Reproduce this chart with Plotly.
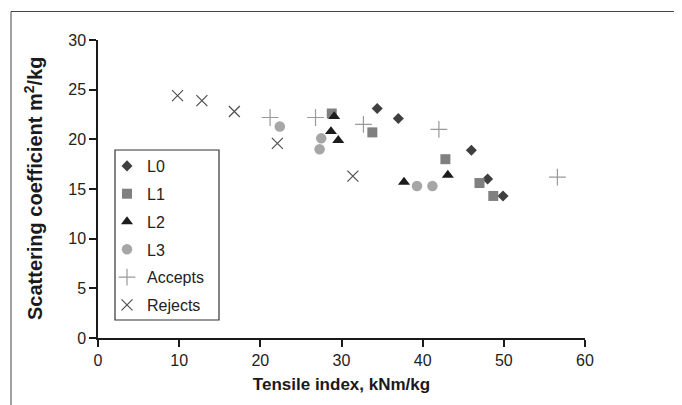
import plotly.graph_objects as go

# Data
l0_x = [34.4, 37.0, 46.0, 48.0, 49.9]
l0_y = [23.1, 22.1, 18.9, 16.0, 14.3]

l1_x = [28.8, 33.8, 42.8, 47.0, 48.7]
l1_y = [22.6, 20.7, 18.0, 15.6, 14.3]

l2_x = [29.1, 28.7, 29.6, 37.7, 43.1]
l2_y = [22.3, 20.8, 19.9, 15.7, 16.4]

l3_x = [22.4, 27.5, 27.3, 39.3, 41.2]
l3_y = [21.3, 20.1, 19.0, 15.3, 15.3]

acc_x = [21.2, 26.8, 32.7, 42.0, 56.6]
acc_y = [22.2, 22.2, 21.5, 21.0, 16.2]

rej_x = [9.8, 12.8, 16.8, 22.1, 31.4]
rej_y = [24.4, 23.9, 22.8, 19.6, 16.3]

x_ticks = [0, 10, 20, 30, 40, 50, 60]
y_ticks = [0, 5, 10, 15, 20, 25, 30]

FONT = "Arial, Liberation Sans, sans-serif"

series = [
    ("L0", l0_x, l0_y, dict(symbol="diamond", size=8.5, color="#3f3f3f")),
    ("L1", l1_x, l1_y, dict(symbol="square", size=10, color="#808080")),
    ("L2", l2_x, l2_y, dict(symbol="triangle-up", size=10.5, color="#1c1c1c")),
    ("L3", l3_x, l3_y, dict(symbol="circle", size=10.5, color="#a6a6a6")),
    ("Accepts", acc_x, acc_y, dict(symbol="cross-thin", size=12,
                                   line=dict(color="#9a9a9a", width=1.2))),
    ("Rejects", rej_x, rej_y, dict(symbol="x-thin", size=11,
                                   line=dict(color="#505050", width=1.2))),
]

fig = go.Figure()
for name, xs, ys, mk in series:
    fig.add_trace(go.Scatter(x=xs, y=ys, mode="markers", name=name,
                             legendgroup=name, marker=mk))

L, R, T, B = 90, 105, 32, 75
pw = 682 - L - R
ph = 405 - T - B


def px(v):
    return (v - L) / pw


def py(v):
    return (405 - B - v) / ph


fig.update_layout(
    width=682, height=405,
    margin=dict(l=L, r=R, t=T, b=B),
    paper_bgcolor="white", plot_bgcolor="white",
    font=dict(family=FONT, size=16, color="#222"),
    showlegend=True,
    legend=dict(x=px(99), y=py(141), xanchor="left", yanchor="top",
                bgcolor="rgba(0,0,0,0)", borderwidth=0, tracegroupgap=4,
                font=dict(family=FONT, size=16, color="#222")),
    xaxis=dict(range=[0, 60], tickvals=x_ticks, showgrid=False, zeroline=False,
               showline=True, linecolor="#1a1a1a", linewidth=2,
               ticks="outside", ticklen=7, tickcolor="#1a1a1a", tickwidth=1.5,
               tickfont=dict(family=FONT, size=16, color="#222"),
               title=dict(text="<b>Tensile index, kNm/kg</b>",
                          font=dict(family=FONT, size=17, color="#1a1a1a"),
                          standoff=10)),
    yaxis=dict(range=[0, 30], tickvals=y_ticks, showgrid=False, zeroline=False,
               showline=True, linecolor="#1a1a1a", linewidth=1.5,
               ticks="outside", ticklen=7, tickcolor="#1a1a1a", tickwidth=1.5,
               tickfont=dict(family=FONT, size=16, color="#222")),
    annotations=[
        dict(text="<b>Scattering coefficient m<sup>2</sup>/kg</b>",
             xref="paper", yref="paper", x=px(25), y=0.5,
             xanchor="center", yanchor="middle", textangle=-90, showarrow=False,
             font=dict(family=FONT, size=20, color="#1a1a1a")),
    ],
    shapes=[
        # legend border
        dict(type="rect", xref="paper", yref="paper",
             x0=px(107), x1=px(211), y0=py(312), y1=py(142),
             line=dict(color="#333", width=1.2), fillcolor="rgba(0,0,0,0)"),
        # outer frame (left and top edges visible)
        dict(type="line", xref="paper", yref="paper",
             x0=px(3), x1=px(3), y0=py(420), y1=py(3.5),
             line=dict(color="#444", width=1)),
        dict(type="line", xref="paper", yref="paper",
             x0=px(3), x1=px(700), y0=py(3.5), y1=py(3.5),
             line=dict(color="#444", width=1)),
    ],
)

fig.write_html("out.html")
